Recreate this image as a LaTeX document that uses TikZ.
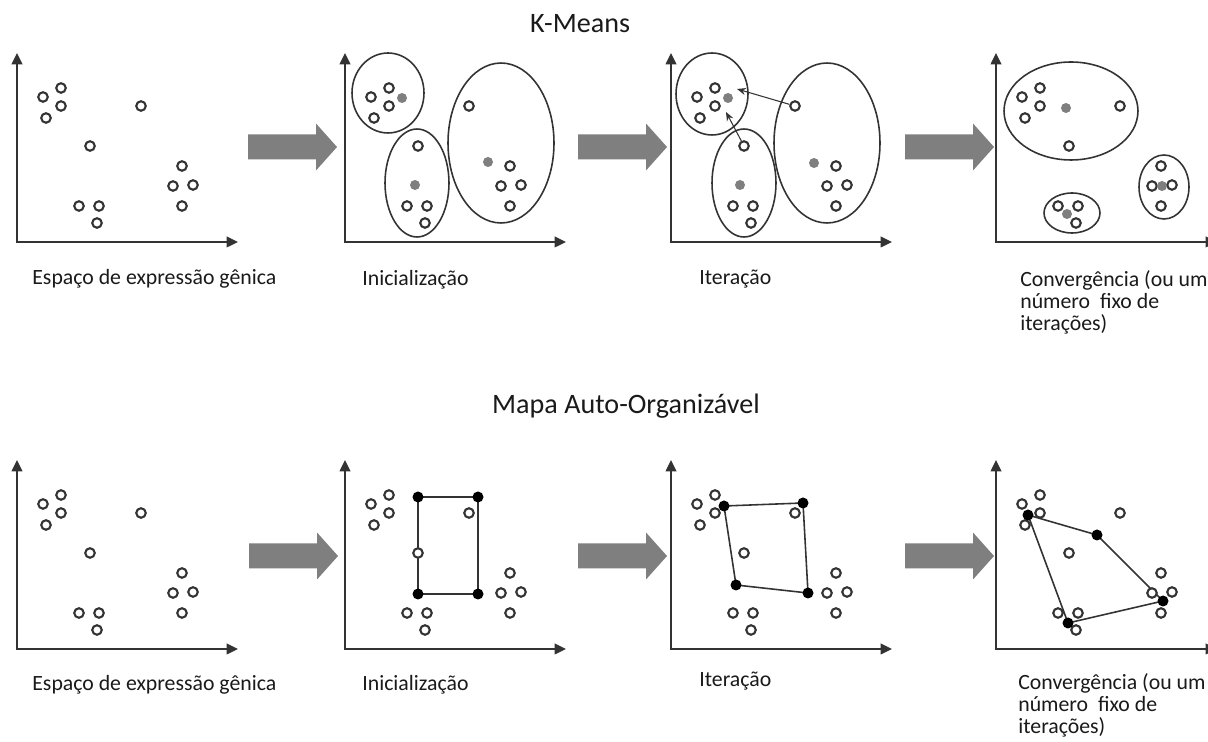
\documentclass[tikz,border=0pt]{standalone}
\usepackage{fontspec}
\setmainfont{Carlito}
\usetikzlibrary{arrows.meta, backgrounds}
\pgfdeclarelayer{edges}
\pgfsetlayers{background,edges,main}

\definecolor{inkgrey}{HTML}{333333}
\definecolor{textgrey}{HTML}{1A1A1A}
\definecolor{bluntgrey}{HTML}{7F7F7F}

\begin{document}
\begin{tikzpicture}[x=0.02cm, y=-0.02cm,
    background rectangle/.style={fill=white}, show background rectangle, inner frame sep=0pt,
    axis/.style={draw=inkgrey, line width=1.2pt,
        {Triangle[length=6.5pt,width=6pt]}-{Triangle[length=6.5pt,width=6pt]}},
    datum/.style={circle, draw=inkgrey, line width=1.2pt, fill=white,
        minimum size=0.19cm, inner sep=0pt},
    centroid/.style={circle, fill=bluntgrey, minimum size=0.2cm, inner sep=0pt},
    neuron/.style={circle, fill=black, minimum size=0.22cm, inner sep=0pt},
    cluster/.style={draw=inkgrey, line width=0.9pt},
    somedge/.style={draw=inkgrey, line width=0.9pt},
    bigarrow/.style={fill=bluntgrey},
    caption/.style={font=\fontsize{12.4}{12.6}\selectfont, text=textgrey,
        inner sep=0pt, anchor=base west},
    heading/.style={font=\fontsize{16}{19}\selectfont, text=textgrey,
        inner sep=0pt, anchor=base}]

\useasboundingbox (0,0) rectangle (1208,742);

% titles
\node[heading] (kmeans) at (580,33) {K-Means};
\node[heading] (som) at (626,414) {Mapa Auto-Organizável};

% k-means clusters
\draw[cluster] (388,93) ellipse [x radius=0.72cm, y radius=0.80cm];
\draw[cluster] (417,183) ellipse [x radius=0.64cm, y radius=1.08cm];
\draw[cluster] (501,143) ellipse [x radius=1.06cm, y radius=1.60cm];
\draw[cluster] (712,94) ellipse [x radius=0.72cm, y radius=0.82cm];
\draw[cluster] (744,183) ellipse [x radius=0.64cm, y radius=1.08cm];
\draw[cluster] (827,143) ellipse [x radius=1.06cm, y radius=1.60cm];
\draw[cluster] (1071,111) ellipse [x radius=1.34cm, y radius=0.98cm];
\draw[cluster] (1072,213) ellipse [x radius=0.56cm, y radius=0.40cm];
\draw[cluster] (1164,187) ellipse [x radius=0.50cm, y radius=0.64cm];

% axes and data
\foreach \pn/\dx/\dy in {k1/0/0, k2/328/0, k3/654/0, k4/979/0,
                         s1/0/407, s2/328/407, s3/654/407, s4/979/407}{
  \begin{scope}[shift={(\dx,\dy)}]
    \coordinate (\pn o) at (17,242);
    \coordinate (\pn y) at (17,53);
    \coordinate (\pn x) at (238,242);
    \draw[axis] (\pn y) -- (\pn o) -- (\pn x);
    \foreach \i/\px/\py in {1/43/97, 2/61/88, 3/61/106, 4/46/118, 5/141/106,
                            6/90/146, 7/182/166, 8/173/186, 9/193/185,
                            10/182/206, 11/79/206, 12/99/206, 13/97/223}
      \node[datum] (\pn p\i) at (\px,\py) {};
  \end{scope}
}

% big arrows
\foreach \ax/\ay in {248/147, 578/147, 905/147, 249/556, 578/556, 905/556}
  \fill[bigarrow, shift={(\ax,\ay)}] (0,-12.5) -- (68,-12.5) -- (68,-23.5) -- (89,0)
      -- (68,23.5) -- (68,12.5) -- (0,12.5) -- cycle;

% centroids
\node[centroid] (k2c1) at (402,98) {};
\node[centroid] (k2c2) at (415,185) {};
\node[centroid] (k2c3) at (488,162) {};
\node[centroid] (k3c1) at (728,98) {};
\node[centroid] (k3c2) at (740,185) {};
\node[centroid] (k3c3) at (814,163) {};
\node[centroid] (k4c1) at (1066,108) {};
\node[centroid] (k4c2) at (1067,214) {};
\node[centroid] (k4c3) at (1162,186) {};

\coordinate (k3t1) at (737,89);
\coordinate (k3t2) at (726,112);
\draw[-{Stealth[length=5pt,width=4pt]}, inkgrey, line width=0.6pt] (k3p5) -- (k3t1);
\draw[-{Stealth[length=5pt,width=4pt]}, inkgrey, line width=0.6pt] (k3p6) -- (k3t2);

% som neurons
\node[neuron] (s2a) at (418,497) {};
\node[neuron] (s2b) at (478,497) {};
\node[neuron] (s2c) at (478,594) {};
\node[neuron] (s2d) at (418,594) {};
\node[neuron] (s3a) at (724,506) {};
\node[neuron] (s3b) at (803,503) {};
\node[neuron] (s3c) at (808,593) {};
\node[neuron] (s3d) at (736,585) {};
\node[neuron] (s4a) at (1028,515) {};
\node[neuron] (s4b) at (1097,535) {};
\node[neuron] (s4c) at (1163,601) {};
\node[neuron] (s4d) at (1068,623) {};

\begin{pgfonlayer}{edges}
  \draw[somedge] (s2a.center) -- (s2b.center) -- (s2c.center) -- (s2d.center) -- cycle;
  \draw[somedge] (s3a.center) -- (s3b.center) -- (s3c.center) -- (s3d.center) -- cycle;
  \draw[somedge] (s4a.center) -- (s4b.center) -- (s4c.center) -- (s4d.center) -- cycle;
\end{pgfonlayer}

% captions
\node[caption] (k1lab) at (32,285) {Espaço de expressão gênica};
\node[caption] (k2lab) at (362,286) {Inicialização};
\node[caption] (k3lab) at (699,285) {Iteração};
\node[caption, align=left, anchor=north west] (k4lab) at (1020,270)
  {Convergência (ou um\\número \ fixo de\\iterações)};
\node[caption] (s1lab) at (32,691) {Espaço de expressão gênica};
\node[caption] (s2lab) at (362,691) {Inicialização};
\node[caption] (s3lab) at (699,687) {Iteração};
\node[caption, align=left, anchor=north west] (s4lab) at (1018,673)
  {Convergência (ou um\\número \ fixo de\\iterações)};

\end{tikzpicture}
\end{document}
